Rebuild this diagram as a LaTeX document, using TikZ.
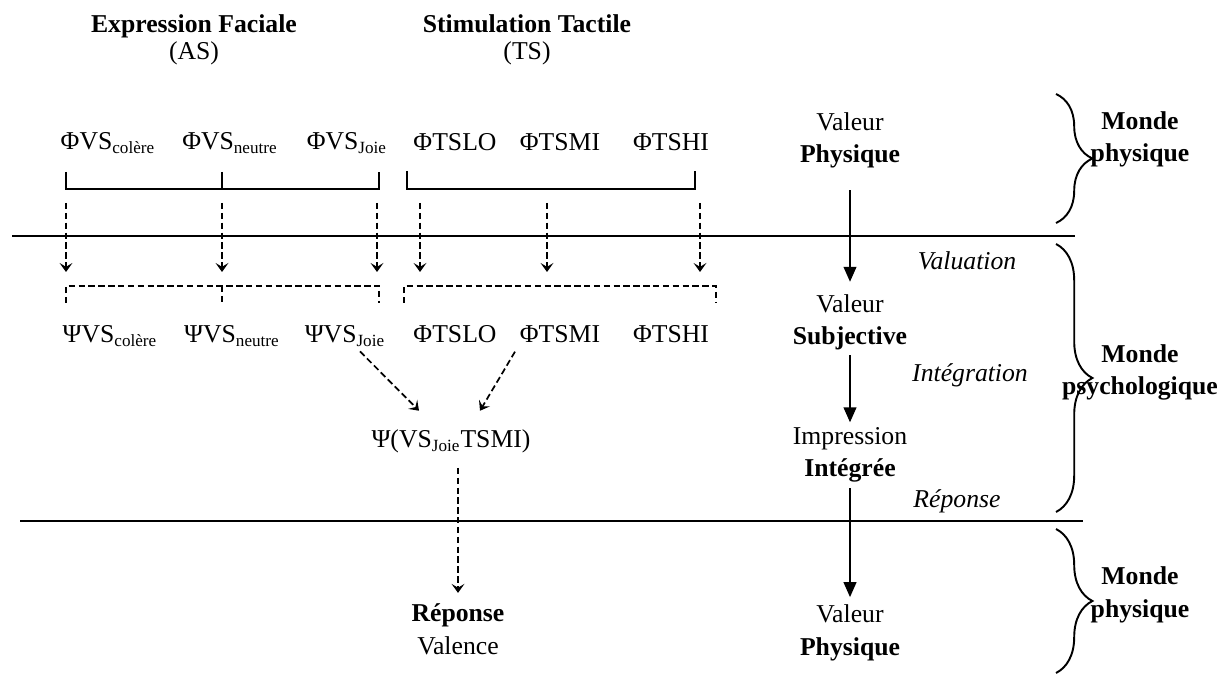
\documentclass[tikz,border=0pt]{standalone}
\usepackage{fontspec}
\setmainfont{Liberation Serif}
\usetikzlibrary{positioning, arrows.meta, calc, decorations.pathreplacing}

\begin{document}
\begin{tikzpicture}[
    x=0.467pt, y=-0.467pt,
    font=\fontsize{12}{15}\selectfont,
    txt/.style={
        inner sep=0pt,
        anchor=base,
        align=center
    },
    title/.style={
        txt,
        font=\fontsize{12}{13}\selectfont
    },
    bracket/.style={
        line width=0.9pt
    },
    dbracket/.style={
        bracket,
        dash pattern=on 3pt off 1.6pt
    },
    dasharrow/.style={
        -{Stealth[length=4.2pt, width=6pt, inset=1.8pt]},
        line width=0.8pt,
        dash pattern=on 3pt off 1.6pt
    },
    flow/.style={
        -{Triangle[length=7pt, width=6pt]},
        line width=0.7pt
    },
    sep/.style={
        line width=0.9pt
    },
    world/.style={
        line width=0.9pt,
        decorate,
        decoration={brace, amplitude=17pt, aspect=0.5}
    }
]
    \useasboundingbox (0,0) rectangle (1223,675);

    % Titles
    \node[title] (as) at (194,60) {\textbf{Expression Faciale}\\(AS)};
    \node[title] (ts) at (527,60) {\textbf{Stimulation Tactile}\\(TS)};

    % Physical stimuli
    \node[txt] (phiCol)  at (108,150) {ΦVS\textsubscript{colère}};
    \node[txt] (phiNeu)  at (230,150) {ΦVS\textsubscript{neutre}};
    \node[txt] (phiJoie) at (347,150) {ΦVS\textsubscript{Joie}};
    \node[txt] (phiLo)   at (455,151) {ΦTSLO};
    \node[txt] (phiMi)   at (560,151) {ΦTSMI};
    \node[txt] (phiHi)   at (671,151) {ΦTSHI};

    \draw[bracket] (66,172) -- (66,189) -- (379,189) -- (379,172);
    \draw[bracket] (222,172) -- (222,189);
    \draw[bracket] (407,171) -- (407,189) -- (695,189) -- (695,171);

    % Valuation arrows
    \foreach \x [count=\i] in {66,222,377,420,547,700} {
        \coordinate (v\i) at (\x,203);
        \coordinate (w\i) at (\x,272);
        \draw[dasharrow] (v\i) -- (w\i);
    }

    \draw[dbracket] (66,303) -- (66,286) -- (379,286) -- (379,303);
    \draw[dbracket] (222,286) -- (222,303);
    \draw[dbracket] (404,303) -- (404,286) -- (716,286) -- (716,303);

    % Subjective values
    \node[txt] (psiCol)  at (110,343) {ΨVS\textsubscript{colère}};
    \node[txt] (psiNeu)  at (232,343) {ΨVS\textsubscript{neutre}};
    \node[txt] (psiJoie) at (345,343) {ΨVS\textsubscript{Joie}};
    \node[txt] (psiLo)   at (455,343) {ΦTSLO};
    \node[txt] (psiMi)   at (560,343) {ΦTSMI};
    \node[txt] (psiHi)   at (671,343) {ΦTSHI};

    % Integration
    \node[txt] (mix) at (451,448) {Ψ(VS\textsubscript{Joie}TSMI)};
    \draw[dasharrow] ($(psiJoie.south)+(15,4)$) -- ($(mix.north)+(-32,-19)$);
    \draw[dasharrow] ($(psiMi.south)+(-45,8)$) -- ($(mix.north)+(29,-19)$);

    % Response
    \node[txt] (rep) at (458,654) {\textbf{Réponse}\\Valence};
    \draw[dasharrow, shorten <=6.5pt, shorten >=5pt] (rep.north |- mix.south) -- (rep.north);

    % World borders
    \draw[sep] (12,236) -- (1075,236);
    \draw[sep] (20,521) -- (1083,521);

    % Right column
    \node[txt] (vphys) at (850,163) {Valeur\\\textbf{Physique}};
    \node[txt] (vsubj) at (850,345) {Valeur\\\textbf{Subjective}};
    \node[txt] (impr)  at (850,477) {Impression\\\textbf{Intégrée}};
    \node[txt] (vout)  at (850,655) {Valeur\\\textbf{Physique}};

    \draw[flow, shorten <=10pt, shorten >=6pt] (vphys) -- (vsubj);
    \draw[flow, shorten <=2pt, shorten >=2.4pt] (vsubj) -- (impr);
    \draw[flow, shorten <=2.4pt, shorten >=3.5pt] (impr) -- (vout);

    \node[txt] (valu)  at (967,270) {\textit{Valuation}};
    \node[txt] (integ) at (970,382) {\textit{Intégration}};
    \node[txt] (repo)  at (957,508) {\textit{Réponse}};

    % Worlds
    \draw[world] (1056,94) -- (1056,223);
    \draw[world] (1056,244) -- (1056,512);
    \draw[world] (1056,529) -- (1056,673);

    \node[txt] (mphys) at (1140,162) {\textbf{Monde}\\\textbf{physique}};
    \node[txt] (mpsy)  at (1140,395) {\textbf{Monde}\\\textbf{psychologique}};
    \node[txt] (mout)  at (1140,617) {\textbf{Monde}\\\textbf{physique}};

\end{tikzpicture}
\end{document}
